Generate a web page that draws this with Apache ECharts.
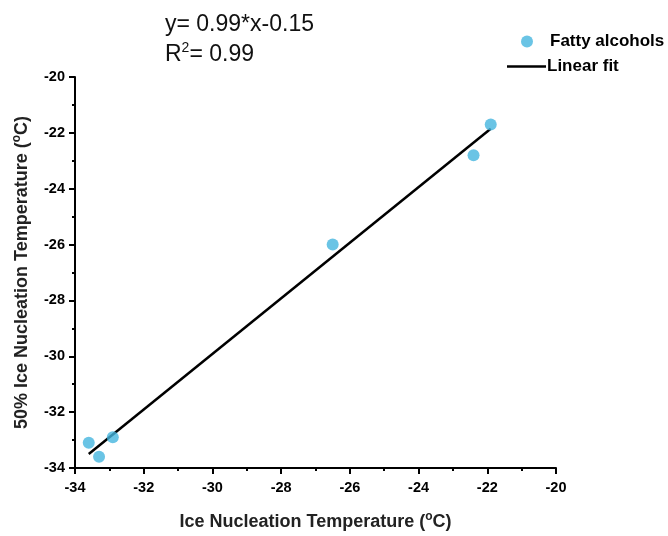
<!DOCTYPE html>
<html>
<head>
<meta charset="utf-8">
<script src="https://cdn.jsdelivr.net/npm/echarts@6/dist/echarts.min.js"></script>
<style>
  html, body { margin: 0; padding: 0; background: #fff; }
  #chart { width: 668px; height: 536px; }
</style>
</head>
<body>
<div id="chart"></div>
<script>
// data
const alcoholX = [-33.6, -33.3, -32.9, -26.5, -22.4, -21.9];
const alcoholY = [-33.1, -33.6, -32.9, -26.0, -22.8, -21.7];
const fitX = [-33.6, -21.9];
const fitY = [-33.5, -21.85];

const xTicks = [-34, -32, -30, -28, -26, -24, -22, -20];
const yTicks = [-34, -32, -30, -28, -26, -24, -22, -20];

const scatterData = alcoholX.map((x, i) => [x, alcoholY[i]]);
const fitData = fitX.map((x, i) => [x, fitY[i]]);

const font = '"Liberation Sans", Arial, sans-serif';
const supRich = {
  n: { fontFamily: font, fontSize: 18, fontWeight: 'bold', color: '#222', lineHeight: 22 },
  s: { fontFamily: font, fontSize: 12, fontWeight: 'bold', color: '#222', lineHeight: 22, verticalAlign: 'top', padding: [0, 0, 7, 0] }
};

let myChart = echarts.init(document.getElementById('chart'));

let axisCommon = {
  type: 'value',
  min: -34,
  max: -20,
  interval: 2,
  nameLocation: 'middle',
  axisLine: { show: true, onZero: false, lineStyle: { color: '#000', width: 2 } },
  axisTick: { show: true, inside: false, length: 6, lineStyle: { color: '#000', width: 2 } },
  minorTick: { show: true, splitNumber: 2, length: 3, lineStyle: { color: '#000', width: 2 } },
  splitLine: { show: false },
  axisLabel: { color: '#000', fontFamily: font, fontWeight: 'bold', fontSize: 14.5,
    formatter: v => (xTicks.indexOf(v) >= 0 ? String(v) : '') }
};

let option = {
  animation: false,
  title: [{
    text: 'y= 0.99*x-0.15',
    left: 160, top: 8,
    textStyle: { fontFamily: font, fontSize: 23, fontWeight: 'normal', color: '#111' }
  }, {
    text: '{n|R}{s|2}{n|= 0.99}',
    left: 160, top: 36,
    textStyle: {
      rich: {
        n: { fontFamily: font, fontSize: 23, fontWeight: 'normal', color: '#111', lineHeight: 27 },
        s: { fontFamily: font, fontSize: 14, fontWeight: 'normal', color: '#111', lineHeight: 27, verticalAlign: 'top', padding: [0, 0, 9, 0] }
      }
    }
  }],
  legend: [{
    data: [{ name: 'Fatty alcohols', icon: 'circle' }],
    left: 521, top: 33, padding: 0,
    itemWidth: 12, itemHeight: 12,
    textStyle: { fontFamily: font, fontWeight: 'bold', fontSize: 17, color: '#000', padding: [0, 0, 0, 12] }
  }, {
    data: [{ name: 'Linear fit', icon: 'rect' }],
    left: 507, top: 58, padding: 0,
    itemWidth: 39, itemHeight: 2.5,
    itemStyle: { color: '#000' },
    textStyle: { fontFamily: font, fontWeight: 'bold', fontSize: 17, color: '#000', padding: [0, 0, 0, -4] }
  }],
  grid: { left: 75, right: 112, top: 77, bottom: 68, containLabel: false, outerBoundsMode: 'none' },
  xAxis: Object.assign({}, axisCommon, {
    name: '{n|Ice Nucleation Temperature (}{s|o}{n|C)}',
    nameGap: 43,
    nameTextStyle: { rich: supRich },
    axisLabel: Object.assign({}, axisCommon.axisLabel, { margin: 12 })
  }),
  yAxis: Object.assign({}, axisCommon, {
    name: '{n|50% Ice Nucleation Temperature (}{s|o}{n|C)}',
    nameGap: 42,
    nameTextStyle: { rich: supRich },
    axisLabel: Object.assign({}, axisCommon.axisLabel, { margin: 10,
      formatter: v => (yTicks.indexOf(v) >= 0 ? String(v) : '') })
  }),
  series: [{
    name: 'Fatty alcohols',
    type: 'scatter',
    symbol: 'circle',
    symbolSize: 12,
    itemStyle: { color: '#45b5df' },
    data: scatterData,
    z: 3
  }, {
    name: 'Linear fit',
    type: 'line',
    showSymbol: false,
    symbol: 'none',
    lineStyle: { color: '#000', width: 2.5 },
    data: fitData,
    z: 2
  }]
};

myChart.setOption(option, true);
</script>
</body>
</html>
